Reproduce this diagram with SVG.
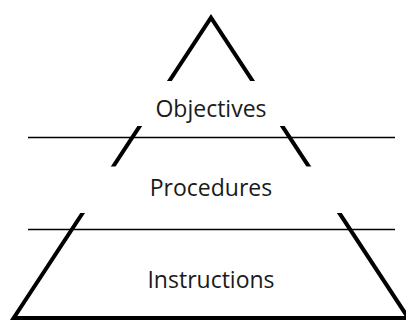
<svg xmlns="http://www.w3.org/2000/svg" width="406" height="320" viewBox="0 0 406 320">
  <style>
    .edge { fill: #ffffff; stroke: #000000; stroke-width: 4; stroke-linejoin: miter; }
    .gap { fill: #ffffff; stroke: none; }
    .sep { stroke: #000000; stroke-width: 1.5; fill: none; }
    .label { font-family: "Open Sans", "DejaVu Sans", sans-serif; font-size: 23px; fill: #1a1a1a; text-anchor: middle; }
  </style>
  <rect x="0" y="0" width="406" height="320" fill="#ffffff"/>
  <polygon id="pyramid" class="edge" points="211,17.7 13.7,318 408.3,318"/>
  <g id="objectives">
    <rect class="gap" x="20" y="81" width="380" height="45"/>
    <text class="label" x="211" y="117">Objectives</text>
  </g>
  <g id="procedures">
    <rect class="gap" x="20" y="166.5" width="380" height="46.5"/>
    <text class="label" x="211" y="196">Procedures</text>
  </g>
  <g id="instructions">
    <text class="label" x="211" y="288">Instructions</text>
  </g>
  <g id="connectors">
    <line class="sep" x1="28" y1="137.5" x2="395" y2="137.5"/>
    <line class="sep" x1="28" y1="229.5" x2="395" y2="229.5"/>
  </g>
</svg>
